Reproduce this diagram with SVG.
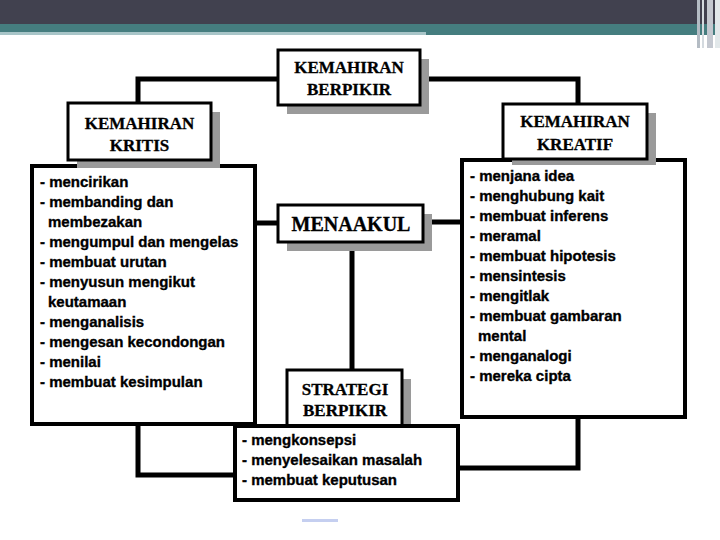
<svg xmlns="http://www.w3.org/2000/svg" width="720" height="540" viewBox="0 0 720 540">
<style>
.conn{fill:none;stroke:#000;stroke-width:5;stroke-linejoin:miter}
.tbox{fill:#fff;stroke:#000;stroke-width:3}
.bbox{fill:#fff;stroke:#000;stroke-width:4}
.shadow{fill:#9a9a9a}
.title{font-family:"Liberation Serif","Times New Roman",serif;font-weight:bold;font-size:17px;fill:#000;text-anchor:middle;stroke:#000;stroke-width:0.3}
.big{font-size:20px}
.item{font-family:"Liberation Sans",Arial,sans-serif;font-weight:bold;font-size:15px;fill:#000;stroke:#000;stroke-width:0.35}
</style>
<rect x="0" y="0" width="720" height="540" fill="#fff"/>
<g id="header">
<rect x="0" y="0" width="720" height="24" fill="#41414f"/>
<rect x="0" y="24" width="720" height="11" fill="#457d7f"/>
<rect x="0" y="32" width="426" height="3" fill="#a8c5c8"/>
<rect x="697" y="0" width="3" height="48" fill="#b4bcc4"/>
<rect x="702" y="0" width="2" height="48" fill="#d4dadf"/>
<rect x="707" y="0" width="6" height="48" fill="#c4c8d0"/>
<rect x="715" y="0" width="5" height="48" fill="#e2e8ea"/>
<rect x="302" y="519" width="36" height="3" fill="#c5cff0"/>
</g>
<g id="connectors">
<path class="conn" d="M278 79 H138 V103"/>
<path class="conn" d="M420 79 H578 V104"/>
<path class="conn" d="M255 223 H278"/>
<path class="conn" d="M423 222 H462"/>
<path class="conn" d="M352 242 V370"/>
<path class="conn" d="M138 424 V475 H235"/>
<path class="conn" d="M578 417 V468 H458"/>
</g>
<g id="kritis-list">
<rect class="bbox" x="32" y="166" width="223" height="258"/>
<text class="item" x="40" y="187">- mencirikan</text>
<text class="item" x="40" y="207">- membanding dan</text>
<text class="item" x="48" y="227">membezakan</text>
<text class="item" x="40" y="247">- mengumpul dan mengelas</text>
<text class="item" x="40" y="267">- membuat urutan</text>
<text class="item" x="40" y="287">- menyusun mengikut</text>
<text class="item" x="48" y="307">keutamaan</text>
<text class="item" x="40" y="327">- menganalisis</text>
<text class="item" x="40" y="347">- mengesan kecondongan</text>
<text class="item" x="40" y="367">- menilai</text>
<text class="item" x="40" y="387">- membuat kesimpulan</text>
</g>
<g id="kreatif-list">
<rect class="bbox" x="462" y="160" width="223" height="257"/>
<text class="item" x="470" y="181">- menjana idea</text>
<text class="item" x="470" y="201">- menghubung kait</text>
<text class="item" x="470" y="221">- membuat inferens</text>
<text class="item" x="470" y="241">- meramal</text>
<text class="item" x="470" y="261">- membuat hipotesis</text>
<text class="item" x="470" y="281">- mensintesis</text>
<text class="item" x="470" y="301">- mengitlak</text>
<text class="item" x="470" y="321">- membuat gambaran</text>
<text class="item" x="478" y="341">mental</text>
<text class="item" x="470" y="361">- menganalogi</text>
<text class="item" x="470" y="381">- mereka cipta</text>
</g>
<g id="berpikir">
<rect class="shadow" x="287" y="59" width="142" height="55"/>
<rect class="tbox" x="278" y="50" width="142" height="55"/>
<text class="title" x="349" y="73">KEMAHIRAN</text>
<text class="title" x="349" y="95">BERPIKIR</text>
</g>
<g id="kritis">
<rect class="shadow" x="77" y="112" width="143" height="56"/>
<rect class="tbox" x="68" y="103" width="143" height="57"/>
<text class="title" x="139.5" y="129">KEMAHIRAN</text>
<text class="title" x="139.5" y="151">KRITIS</text>
</g>
<g id="kreatif">
<rect class="shadow" x="512" y="113" width="144" height="52"/>
<rect class="tbox" x="503" y="104" width="144" height="55"/>
<text class="title" x="575" y="127">KEMAHIRAN</text>
<text class="title" x="575" y="150">KREATIF</text>
</g>
<g id="menaakul">
<rect class="shadow" x="287" y="214" width="145" height="37"/>
<rect class="tbox" x="278" y="205" width="145" height="37"/>
<text class="title big" x="351" y="231">MENAAKUL</text>
</g>
<g id="strategi">
<rect class="shadow" x="296" y="379" width="115" height="46"/>
<rect class="tbox" x="287" y="370" width="115" height="56"/>
<text class="title" x="345" y="395">STRATEGI</text>
<text class="title" x="345" y="416">BERPIKIR</text>
</g>
<g id="strategi-list">
<rect class="bbox" x="235" y="426" width="223" height="74"/>
<text class="item" x="242" y="445">- mengkonsepsi</text>
<text class="item" x="242" y="465">- menyelesaikan masalah</text>
<text class="item" x="242" y="485">- membuat keputusan</text>
</g>
</svg>
